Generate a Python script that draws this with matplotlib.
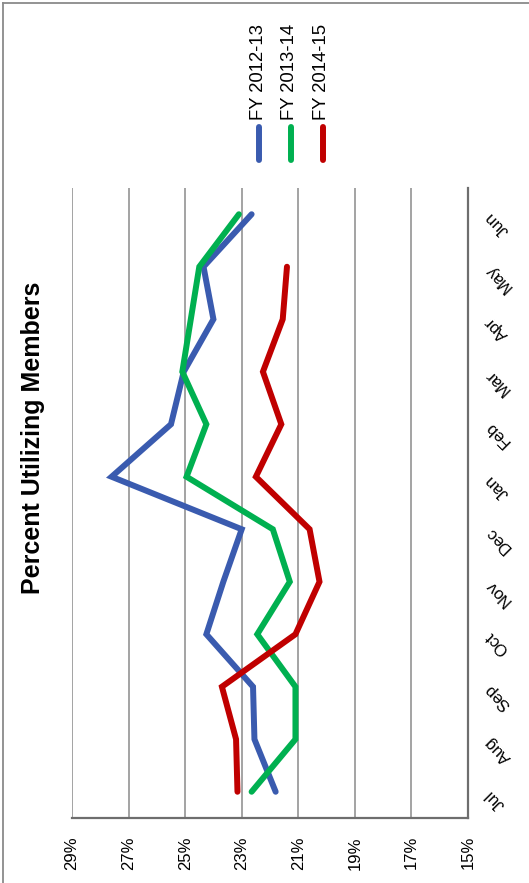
import matplotlib
matplotlib.use("Agg")
import matplotlib.pyplot as plt
import numpy as np
from matplotlib.lines import Line2D

plt.rcParams['font.family'] = ['Liberation Sans', 'DejaVu Sans']

months = ['Jul', 'Aug', 'Sep', 'Oct', 'Nov', 'Dec', 'Jan', 'Feb', 'Mar', 'Apr', 'May', 'Jun']
series_names = ['FY 2012-13', 'FY 2013-14', 'FY 2014-15']
fy_2012_13 = [21.8, 22.55, 22.6, 24.25, 23.65, 23.0, 27.6, 25.5, 25.05, 24.0, 24.35, 22.65]
fy_2013_14 = [22.65, 21.1, 21.1, 22.45, 21.3, 21.9, 24.95, 24.25, 25.1, 24.8, 24.5, 23.1]
fy_2014_15 = [23.15, 23.2, 23.7, 21.1, 20.25, 20.6, 22.5, 21.6, 22.25, 21.55, 21.4, np.nan]
pct_ticks = [15, 17, 19, 21, 23, 25, 27, 29]

colors = ['#3A5BAF', '#00B050', '#C00000']

W, H = 529, 883
fig = plt.figure(figsize=(W / 100, H / 100), dpi=100)

def fx(px):
    return px / W

def fy(py):
    return (H - py) / H

ax = fig.add_axes([fx(72), fy(818), fx(468) - fx(72), fy(188) - fy(818)])

pos = np.arange(len(months))
for vals, c in zip([fy_2012_13, fy_2013_14, fy_2014_15], colors):
    ax.plot(vals, pos, color=c, lw=4.3, solid_capstyle='round', solid_joinstyle='miter', zorder=3)

# chart is drawn turned on its side: percent runs along the bottom, months up the right
ax.set_xlim(29, 15)
ax.set_ylim(-0.5, len(months) - 0.5)
ax.set_xticks(pct_ticks)
ax.set_xticklabels([f'{v}%' for v in pct_ticks], rotation=90, va='top', ha='center', fontsize=12)
ax.tick_params(axis='x', length=0, pad=13)
ax.grid(axis='x', color='#8a8a8a', lw=1.1)

ax.yaxis.tick_right()
ax.set_yticks(pos)
ax.set_yticklabels(months, rotation=135, rotation_mode='anchor', ha='right', va='center', fontsize=12)
ax.tick_params(axis='y', length=0, pad=14)

for s in ['left', 'top']:
    ax.spines[s].set_visible(False)
for s in ['bottom', 'right']:
    ax.spines[s].set_color('#6e6e6e')
    ax.spines[s].set_linewidth(1.6)

fig.text(fx(33), fy(438), 'Percent Utilizing Members', rotation=90, fontsize=18,
         fontweight='bold', ha='center', va='center')

# legend, drawn by hand so it can stand on its side
leg_x = [259.3, 290.7, 322.7]
for x, c, name in zip(leg_x, colors, series_names):
    fig.add_artist(Line2D([fx(x), fx(x)], [fy(127), fy(160)], color=c, lw=4.3,
                          solid_capstyle='round'))
    fig.text(fx(x - 1), fy(120), name, rotation=90, fontsize=13.3, ha='center', va='bottom')

# outer border (left and top edges)
fig.add_artist(Line2D([fx(3), fx(3)], [0, fy(3)], color='#8a8a8a', lw=1.3))
fig.add_artist(Line2D([fx(3), 1], [fy(3), fy(3)], color='#8a8a8a', lw=1.3))

fig.savefig('out.png', dpi=100)
